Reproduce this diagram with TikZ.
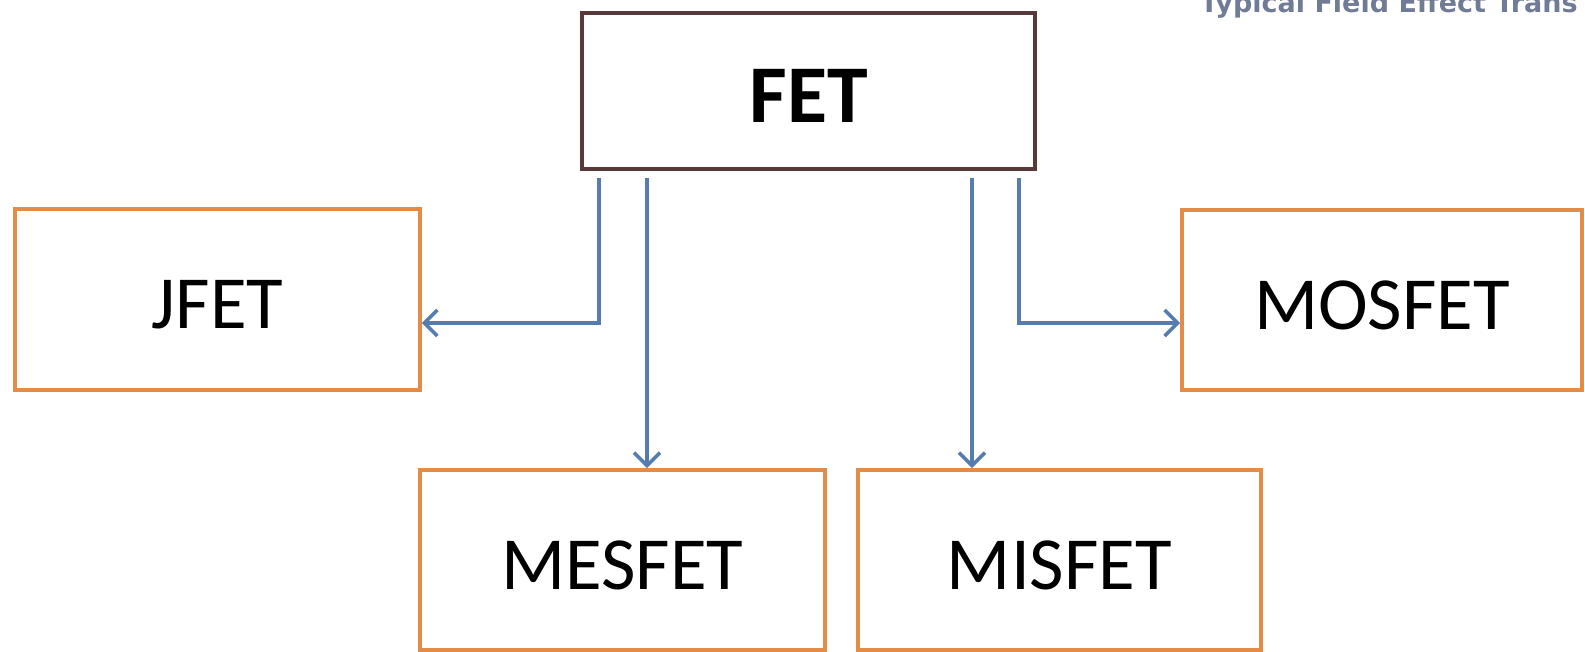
\documentclass[tikz,border=0pt]{standalone}
\usepackage{fontspec}
\setmainfont{Carlito}
\newfontfamily\captionfont{DejaVu Sans}
\usetikzlibrary{arrows.meta}
\definecolor{boxorange}{RGB}{226,140,72}
\definecolor{topframe}{RGB}{88,56,56}
\definecolor{linkblue}{RGB}{84,124,176}
\definecolor{captiongrey}{RGB}{112,124,150}
\tikzset{
  root/.style={draw=topframe, line width=4pt, fill=white, minimum width=453pt, minimum height=156pt, inner sep=0pt,
    text height=63pt, text depth=0pt, font=\fontsize{82}{82}\selectfont\bfseries},
  leaf/.style={draw=boxorange, line width=3.6pt, fill=white, inner sep=0pt,
    text height=58pt, text depth=0pt, font=\fontsize{75}{75}\selectfont},
  link/.style={draw=linkblue, line width=3.6pt, -{Straight Barb[length=13pt,width=26pt,line width=3.6pt]}},
}
\begin{document}
\begin{tikzpicture}[x=1pt,y=-1pt]
  \useasboundingbox (0,0) rectangle (1585,651);
  \clip (0,0) rectangle (1585,651);

  % caption strip at the top right
  \node[anchor=base west, inner sep=0pt, text=captiongrey, font=\captionfont\bfseries\fontsize{27}{27}\selectfont] (cap) at (1200,12) {Typical Field Effect Trans};

  % boxes
  \node[root] (fet) at (808.5,91) {FET};
  \node[leaf, minimum width=405pt, minimum height=181pt] (jfet) at (217.5,299.5) {JFET};
  \node[leaf, minimum width=400pt, minimum height=180pt] (mosfet) at (1382,300) {MOSFET};
  \node[leaf, minimum width=405pt, minimum height=180pt] (mesfet) at (622.5,560) {MESFET};
  \node[leaf, minimum width=403pt, minimum height=180pt] (misfet) at (1059.5,560) {MISFET};

  % connector start points, just below the FET box
  \coordinate (s1) at (599,178);
  \coordinate (s2) at (647,178);
  \coordinate (s3) at (972,178);
  \coordinate (s4) at (1019,178);

  % connectors
  \draw[link] (s1) |- (jfet.east |- 0,323);
  \draw[link] (s2) -- (s2 |- mesfet.north);
  \draw[link] (s3) -- (s3 |- misfet.north);
  \draw[link] (s4) |- (mosfet.west |- 0,323);
\end{tikzpicture}
\end{document}
